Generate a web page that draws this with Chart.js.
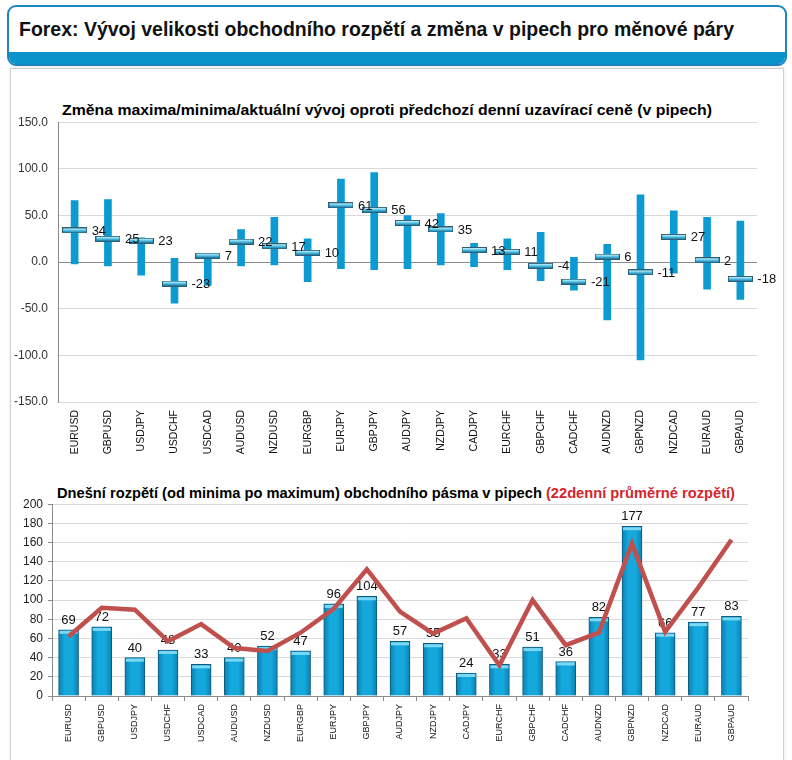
<!DOCTYPE html>
<html><head><meta charset="utf-8">
<script src="https://cdn.jsdelivr.net/npm/chart.js@4.4.1/dist/chart.umd.min.js"></script>
<style>
body{margin:0;background:#fff;width:792px;height:760px;position:relative;overflow:hidden;font-family:"Liberation Sans",Arial,sans-serif;}
#hdr{position:absolute;left:7px;top:5px;width:776px;height:57px;border:2px solid #1c86c2;border-radius:9px;background:#fff;overflow:hidden;}
#hdrband{position:absolute;left:0;right:0;bottom:0;height:12px;background:#0a93cb;}
#hdrtxt{position:absolute;left:10px;top:11px;font-weight:bold;font-size:20px;color:#111;white-space:nowrap;transform-origin:0 0;}
#panel{position:absolute;left:10px;top:68px;width:772px;height:700px;border:1px solid #cfcfcf;box-shadow:0 -2px 4px rgba(0,0,0,0.08);}
.ttl{position:absolute;font-weight:bold;font-size:15px;white-space:nowrap;transform-origin:0 0;color:#000;}
.red{color:#d3262b;}
canvas{position:absolute;}
</style></head>
<body>
<div id="hdr"><div id="hdrtxt">Forex: Vývoj velikosti obchodního rozpětí a změna v pipech pro měnové páry</div><div id="hdrband"></div></div>
<div id="panel"></div>
<div class="ttl" id="t1" style="left:62px;top:101px;">Změna maxima/minima/aktuální vývoj oproti předchozí denní uzavírací ceně (v pipech)</div>
<div class="ttl" id="t2" style="left:57px;top:484px;">Dnešní rozpětí (od minima po maximum) obchodního pásma v pipech <span class="red">(22denní průměrné rozpětí)</span></div>
<canvas id="c1" width="770" height="351" style="left:10px;top:105px;width:770px;height:351px;"></canvas>
<canvas id="c2" width="770" height="262" style="left:10px;top:492px;width:770px;height:262px;"></canvas>
<script>
// ---- data ----
const pairs = ["EURUSD","GBPUSD","USDJPY","USDCHF","USDCAD","AUDUSD","NZDUSD","EURGBP","EURJPY","GBPJPY","AUDJPY","NZDJPY","CADJPY","EURCHF","GBPCHF","CADCHF","AUDNZD","GBPNZD","NZDCAD","EURAUD","GBPAUD"];
const changeMax = [66,67,26,4,8,35,48,25,89,96,50,52,20,25,32,5,19,72,55,48,44];
const changeMin = [-2,-4,-14,-44,-25,-4,-3,-21,-7,-8,-7,-3,-5,-8,-20,-30,-62,-105,-12,-29,-40];
const changeNow = [34,25,23,-23,7,22,17,10,61,56,42,35,13,11,-4,-21,6,-11,27,2,-18];
const changeTicks = [-150,-100,-50,0,50,100,150];
const rangeToday = [69,72,40,48,33,40,52,47,96,104,57,55,24,33,51,36,82,177,66,77,83];
const avg22 = [62,92,90,57,75,50,47,66,91,132,88,65,81,32,100,53,66,159,67,113,163];
const rangeTicks = [0,20,40,60,80,100,120,140,160,180,200];

function fitText(id,w){const el=document.getElementById(id);const r=el.getBoundingClientRect().width;el.style.transform='scaleX('+(w/r)+')';}
fitText('hdrtxt',715);
fitText('t1',650);
fitText('t2',678);

Chart.defaults.font.family='"Liberation Sans", Arial, sans-serif';
Chart.defaults.color='#333';

function markerImg(){
  const c=document.createElement('canvas');c.width=25;c.height=6;
  const g=c.getContext('2d');
  g.fillStyle='#2d5e74';g.fillRect(0,0,25,6);
  const gr=g.createLinearGradient(0,1,0,5);
  gr.addColorStop(0,'#c8f3fc');gr.addColorStop(0.45,'#5fc8e8');gr.addColorStop(1,'#1584b4');
  g.fillStyle=gr;g.fillRect(1,1,23,4);
  return c;
}

const topLabels={id:'topLabels',afterDatasetsDraw(chart){
  const ctx=chart.ctx,xs=chart.scales.x,ys=chart.scales.y;
  ctx.save();ctx.font='13px "Liberation Sans", Arial';ctx.fillStyle='#111';ctx.textAlign='left';ctx.textBaseline='middle';
  changeNow.forEach((v,i)=>{ctx.fillText(String(v),xs.getPixelForValue(i)+17,ys.getPixelForValue(v)+1);});
  ctx.restore();
}};

new Chart(document.getElementById('c1'),{
  type:'bar',
  data:{labels:pairs,datasets:[
    {type:'bar',data:changeMin.map((v,i)=>[v,changeMax[i]]),backgroundColor:'#0c9ad2',barThickness:7,grouped:false,order:2},
    {type:'line',data:changeNow,showLine:false,pointStyle:markerImg(),pointRadius:5,order:1}
  ]},
  options:{responsive:false,animation:false,devicePixelRatio:1,
    layout:{padding:{top:6,right:23,left:0,bottom:0}},
    plugins:{legend:{display:false},tooltip:{enabled:false},title:{display:false}},
    scales:{
      x:{grid:{display:false,drawTicks:false},border:{display:false},
         ticks:{minRotation:90,maxRotation:90,padding:8,color:'#111',font:{size:10.5}},
         afterFit(s){s.height=54;}},
      y:{min:-150,max:150,afterBuildTicks(s){s.ticks=changeTicks.map(v=>({value:v}));},
         grid:{color:c=>c.tick&&c.tick.value===0?'#8a8a8a':'#d9d9d9',drawTicks:false,lineWidth:1},
         border:{display:true,color:'#8a8a8a'},
         ticks:{padding:10,color:'#333',font:{size:12},callback:v=>Number(v).toFixed(1)},
         afterFit(s){s.width=48;}}
    }},
  plugins:[topLabels]
});

const botLabels={id:'botLabels',afterDatasetDraw(chart,args){
  if(args.index!==0)return;
  const ctx=chart.ctx,xs=chart.scales.x,ys=chart.scales.y;
  ctx.save();
  // light cap on top of each bar
  chart.getDatasetMeta(0).data.forEach(el=>{
    ctx.fillStyle='#7ad8f4';ctx.fillRect(el.x-9,el.y+1,18,3);
  });
  ctx.font='13px "Liberation Sans", Arial';ctx.fillStyle='#111';ctx.textAlign='center';ctx.textBaseline='bottom';
  rangeToday.forEach((v,i)=>{ctx.fillText(String(v),xs.getPixelForValue(i),ys.getPixelForValue(v)-3);});
  ctx.restore();
}};

function barFill(ctx){
  const ch=ctx.chart;
  if(!ch.chartArea||!ch.scales||!ch.scales.x)return '#10a2d7';
  const x=ch.scales.x.getPixelForValue(ctx.dataIndex);
  if(!Number.isFinite(x))return '#10a2d7';
  const g=ch.ctx.createLinearGradient(x-10,0,x+10,0);
  g.addColorStop(0,'#0a7fb0');g.addColorStop(0.3,'#14a8dc');g.addColorStop(0.7,'#14a8dc');g.addColorStop(1,'#0a7fb0');
  return g;
}

new Chart(document.getElementById('c2'),{
  type:'bar',
  data:{labels:pairs,datasets:[
    {type:'bar',data:rangeToday,barThickness:20,order:2,borderWidth:1,borderColor:'#0e5a7e',backgroundColor:barFill},
    {type:'line',data:avg22,borderColor:'#c0504d',borderWidth:4.5,pointRadius:0,tension:0,order:1}
  ]},
  options:{responsive:false,animation:false,devicePixelRatio:1,
    layout:{padding:{top:6,right:32,left:0,bottom:0}},
    plugins:{legend:{display:false},tooltip:{enabled:false}},
    scales:{
      x:{grid:{display:true,drawOnChartArea:false,offset:true,tickLength:5,color:'#8a8a8a'},border:{display:true,color:'#8a8a8a'},
         ticks:{minRotation:90,maxRotation:90,padding:3,color:'#111',font:{size:9}},
         afterFit(s){s.height=58;}},
      y:{min:0,max:200,afterBuildTicks(s){s.ticks=rangeTicks.map(v=>({value:v}));},
         grid:{color:'#d9d9d9',tickLength:4,tickColor:'#8a8a8a'},
         border:{display:true,color:'#8a8a8a'},
         ticks:{padding:5,color:'#222',font:{size:12}},
         afterFit(s){s.width=42;}}
    }},
  plugins:[botLabels]
});
</script>
</body></html>
